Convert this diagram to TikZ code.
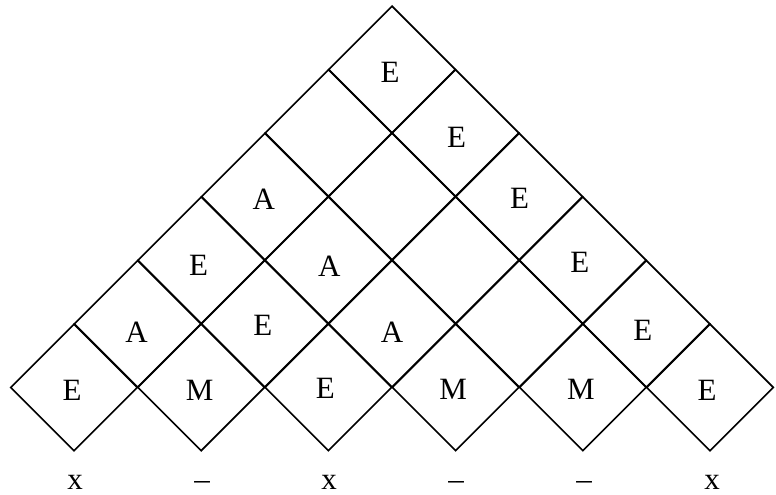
\documentclass[tikz,border=0pt]{standalone}
\usepackage{fontspec}
\setmainfont{Liberation Serif}
\usetikzlibrary{shapes.geometric}
\begin{document}
\begin{tikzpicture}[x=1pt,y=-1pt,
  cell/.style={draw=black,line width=1.6pt,shape=diamond,aspect=1,inner sep=0pt,
    minimum width=127.2pt,minimum height=127.2pt,line join=miter},
  lbl/.style={font=\fontsize{31}{31}\selectfont,inner sep=0pt},
  bot/.style={font=\fontsize{31}{31}\selectfont,inner sep=0pt,anchor=base}]
\useasboundingbox (0,0) rectangle (776,495);
% diamonds: row r (0 = bottom), column c
\foreach \r in {0,...,5}{
  \pgfmathtruncatemacro{\last}{5-\r}
  \foreach \c in {0,...,\last}{
    \node[cell] (d\r\c) at ({74+127.2*\c+63.6*\r},{387.4-63.6*\r}) {};
  }
}
% labels
\node[lbl] (l00) at ([shift={(-2,2.5)}]d00) {E};
\node[lbl] (l01) at ([shift={(-1.5,2.5)}]d01) {M};
\node[lbl] (l02) at ([shift={(-3,1)}]d02) {E};
\node[lbl] (l03) at ([shift={(-2.5,2)}]d03) {M};
\node[lbl] (l04) at ([shift={(-2,2)}]d04) {M};
\node[lbl] (l05) at ([shift={(-3,2.5)}]d05) {E};
\node[lbl] (l10) at ([shift={(-1,8.5)}]d10) {A};
\node[lbl] (l11) at ([shift={(-2,1.5)}]d11) {E};
\node[lbl] (l12) at ([shift={(0,8)}]d12) {A};
\node[lbl] (l14) at ([shift={(-3.5,6.5)}]d14) {E};
\node[lbl] (l20) at ([shift={(-2.5,5)}]d20) {E};
\node[lbl] (l21) at ([shift={(1,6)}]d21) {A};
\node[lbl] (l23) at ([shift={(-3,2)}]d23) {E};
\node[lbl] (l30) at ([shift={(-1,2.5)}]d30) {A};
\node[lbl] (l32) at ([shift={(0.5,1.5)}]d32) {E};
\node[lbl] (l41) at ([shift={(1,4)}]d41) {E};
\node[lbl] (l50) at ([shift={(-2,2.5)}]d50) {E};
% bottom row marks
\node[bot] (b0) at (75,489.5) {x};
\node[bot] (b1) at (202,489.5) {–};
\node[bot] (b2) at (329,489.5) {x};
\node[bot] (b3) at (456,489.5) {–};
\node[bot] (b4) at (584,489.5) {–};
\node[bot] (b5) at (712,489.5) {x};
\end{tikzpicture}
\end{document}
